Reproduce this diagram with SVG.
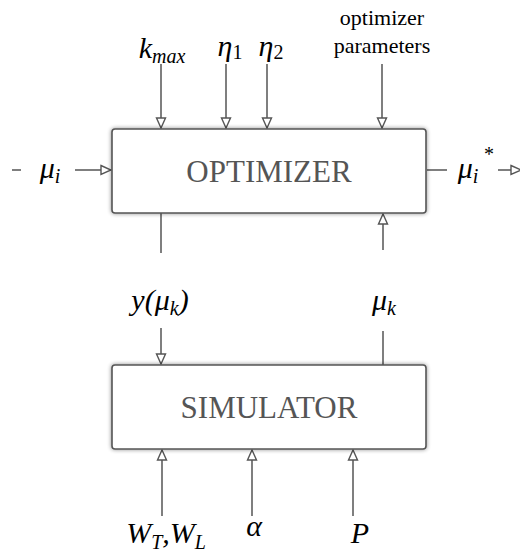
<svg xmlns="http://www.w3.org/2000/svg" width="520" height="553" viewBox="0 0 520 553">
  <style>
    .serif { font-family: "Liberation Serif", "Times New Roman", Times, "Noto Serif", "DejaVu Serif", FreeSerif, Georgia, serif; }
    .box { fill: #ffffff; stroke: #555555; stroke-width: 1.6; }
    .title { font-size: 31px; fill: #555555; text-anchor: middle; }
    .wire { stroke: #555555; stroke-width: 1.5; fill: none; }
    .math { font-style: italic; font-size: 30px; fill: #000000; text-anchor: middle; }
    .sub { font-style: normal; font-size: 20px; }
    .isub { font-style: italic; font-size: 20px; }
    .note { font-size: 22px; fill: #000000; text-anchor: middle; }
    .star { font-size: 20px; fill: #000000; text-anchor: middle; }
  </style>
  <defs>
    <marker id="tri" viewBox="0 0 12 12" refX="11" refY="6" markerWidth="12" markerHeight="12" markerUnits="userSpaceOnUse" orient="auto">
      <path d="M1,1.5 L11,6 L1,10.5 Z" fill="#ffffff" stroke="#555555" stroke-width="1.4"/>
    </marker>
    <filter id="glow" x="-10%" y="-20%" width="120%" height="140%">
      <feGaussianBlur in="SourceAlpha" stdDeviation="2"/>
      <feComponentTransfer><feFuncA type="linear" slope="0.45"/></feComponentTransfer>
      <feMerge><feMergeNode/><feMergeNode in="SourceGraphic"/></feMerge>
    </filter>
  </defs>

  <g id="connectors">
    <!-- inputs into the optimizer from above -->
    <line class="wire" x1="161" y1="64" x2="161" y2="128" marker-end="url(#tri)"/>
    <line class="wire" x1="226" y1="64" x2="226" y2="128" marker-end="url(#tri)"/>
    <line class="wire" x1="267" y1="64" x2="267" y2="128" marker-end="url(#tri)"/>
    <line class="wire" x1="382" y1="64" x2="382" y2="128" marker-end="url(#tri)"/>
    <!-- mu_i in, mu_i* out -->
    <line class="wire" x1="12" y1="170" x2="21" y2="170"/>
    <line class="wire" x1="75" y1="170" x2="111" y2="170" marker-end="url(#tri)"/>
    <line class="wire" x1="427" y1="170" x2="447" y2="170"/>
    <line class="wire" x1="498" y1="170" x2="521" y2="170" marker-end="url(#tri)"/>
    <!-- y(mu_k): optimizer to simulator -->
    <line class="wire" x1="161" y1="213" x2="161" y2="253"/>
    <line class="wire" x1="161" y1="328" x2="161" y2="364" marker-end="url(#tri)"/>
    <!-- mu_k: simulator to optimizer -->
    <line class="wire" x1="383" y1="365" x2="383" y2="331"/>
    <line class="wire" x1="383" y1="250" x2="383" y2="214" marker-end="url(#tri)"/>
    <!-- inputs into the simulator from below -->
    <line class="wire" x1="162" y1="516" x2="162" y2="450" marker-end="url(#tri)"/>
    <line class="wire" x1="252" y1="516" x2="252" y2="450" marker-end="url(#tri)"/>
    <line class="wire" x1="353" y1="516" x2="353" y2="450" marker-end="url(#tri)"/>
  </g>

  <g id="optimizer">
    <rect class="box" x="112" y="129" width="314" height="84" rx="3" filter="url(#glow)"/>
    <text class="serif title" x="269" y="182">OPTIMIZER</text>
  </g>

  <g id="simulator">
    <rect class="box" x="112" y="365" width="314" height="84" rx="3" filter="url(#glow)"/>
    <text class="serif title" x="269" y="418">SIMULATOR</text>
  </g>

  <g id="labels" class="serif">
    <text class="math" x="162" y="58">k<tspan class="isub" dy="5">max</tspan></text>
    <text class="math" x="230" y="56">η<tspan class="sub" dy="3">1</tspan></text>
    <text class="math" x="271" y="56">η<tspan class="sub" dy="3">2</tspan></text>
    <text class="note" x="382" y="25">optimizer</text>
    <text class="note" x="382" y="53">parameters</text>
    <text class="math" x="50" y="178">μ<tspan class="isub" dy="5">i</tspan></text>
    <text class="math" x="468" y="178">μ<tspan class="isub" dy="5">i</tspan></text>
    <text class="star" x="489" y="161">*</text>
    <text class="math" x="160" y="310">y(μ<tspan class="isub" dy="5">k</tspan><tspan dy="-5">)</tspan></text>
    <text class="math" x="384" y="310">μ<tspan class="isub" dy="5">k</tspan></text>
    <text class="math" x="166" y="543">W<tspan class="isub" dy="6">T</tspan><tspan dy="-6">,W</tspan><tspan class="isub" dy="6">L</tspan></text>
    <text class="math" x="254" y="536">α</text>
    <text class="math" x="360" y="543">P</text>
  </g>
</svg>
